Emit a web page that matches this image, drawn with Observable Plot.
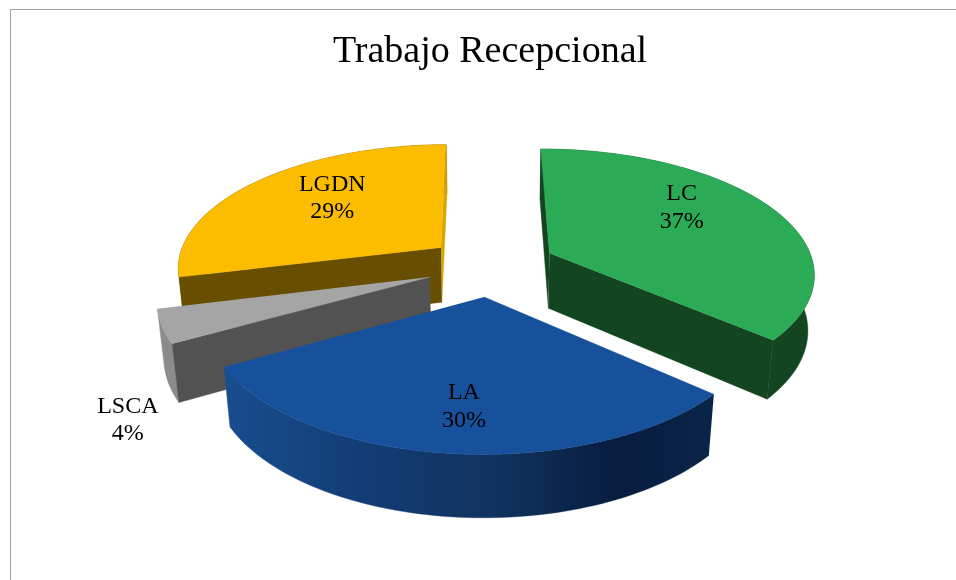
<!DOCTYPE html>
<html>
<head>
<meta charset="utf-8">
<script src="https://cdn.jsdelivr.net/npm/d3@7"></script>
<script src="https://cdn.jsdelivr.net/npm/@observablehq/plot@0.6"></script>
<style>
  html, body { margin: 0; padding: 0; background: #fff; }
  #page { position: relative; width: 956px; height: 580px; overflow: hidden; }
  #frame { position: absolute; left: 9.5px; top: 9px; right: -4px; bottom: -4px; border: 1px solid #a6a6a6; }
  h1 { position: relative; margin: 0; height: 80px; text-align: center; font: 400 38px/1 "Liberation Serif", serif;
       padding-top: 30px; box-sizing: border-box; color: #000; transform: translateX(12px); filter: blur(0.35px); }
  svg { display: block; position: relative; filter: blur(0.35px); }
</style>
</head>
<body>
<div id="page">
  <div id="frame"></div>
  <h1>Trabajo Recepcional</h1>
  <div id="chart"></div>
</div>
<script>
// Data, clockwise from the top of the pie
const categories = ["LC", "LA", "LSCA", "LGDN"];
const values = [36.5, 30.49, 4.2, 28.81];

// Styles
const topColors  = ["#2bab56", "#17519c", "#a5a5a5", "#fcbd00"];
const wallColors = ["#134521", "#0d2f5c", "#525252", "#674e00"];
const endColors  = ["#134521", "#0d2f5c", "#525252", "#d8a400"];
const rimColors  = ["#134521", "url(#laRim)", "#8c8c8c", "#674e00"];
const rimStops = [[0, "#184d8f"], [0.3, "#123c72"], [0.55, "#11335f"], [0.8, "#071d3f"], [1, "#0a2449"]];

// Label placement relative to the slice's apex: bearing (degrees), radial fraction
const labelBearing = [52.3, 185, 224.4, 315.5];
const labelRadial  = [0.70, 0.72, 1.33, 0.66];

// 3D view of the pie
const view = {cx: 490.7, cy: 265.2, radius: 264.5, tilt: 123.3, depth: 56.6, persp: 0.15, perspDown: 0.02, explode: 0.246, rotate: -0.3};
const rad = (deg) => (deg * Math.PI) / 180;

function project(u, v, down) {
  const w = 1 + view.persp * v + view.perspDown * down;
  return {
    x: view.cx + (view.radius * u) / w,
    y: view.cy + (-view.tilt * v + view.depth * down) / w
  };
}

const total = d3.sum(values);
const cumulative = d3.cumsum(values);
const slices = categories.map((name, i) => {
  const a0 = ((cumulative[i] - values[i]) / total) * 360 + view.rotate;
  const a1 = (cumulative[i] / total) * 360 + view.rotate;
  const mid = rad((a0 + a1) / 2);
  return {name, i, a0, a1, ou: view.explode * Math.sin(mid), ov: view.explode * Math.cos(mid), share: Math.round((values[i] / total) * 100)};
});

const rimPoint = (s, deg, down) => project(s.ou + Math.sin(rad(deg)), s.ov + Math.cos(rad(deg)), down);
const apexPoint = (s, down) => project(s.ou, s.ov, down);
const arc = (s, down) => {
  const n = Math.ceil((s.a1 - s.a0) / 1.5);
  return d3.range(n + 1).map((k) => rimPoint(s, s.a0 + ((s.a1 - s.a0) * k) / n, down));
};

// A cut wall is drawn only if its outward normal faces the viewer
const facesViewer = (s, nu, nv) => nu * (0 - s.ou) + nv * (-1 / view.persp - s.ov) > 0;

// Painter's order: back slices first, nearest last; within a slice rim, walls, top
const drawOrder = [3, 0, 2, 1];
const faces = [];
for (const idx of drawOrder) {
  const s = slices[idx];
  faces.push({fill: rimColors[idx], points: [...arc(s, 0), ...arc(s, 1).reverse()]});
  if (facesViewer(s, Math.cos(rad(s.a1)), -Math.sin(rad(s.a1))))
    faces.push({fill: endColors[idx], points: [apexPoint(s, 0), rimPoint(s, s.a1, 0), rimPoint(s, s.a1, 1), apexPoint(s, 1)]});
  if (facesViewer(s, -Math.cos(rad(s.a0)), Math.sin(rad(s.a0))))
    faces.push({fill: wallColors[idx], points: [apexPoint(s, 0), rimPoint(s, s.a0, 0), rimPoint(s, s.a0, 1), apexPoint(s, 1)]});
  faces.push({fill: topColors[idx], points: [apexPoint(s, 0), ...arc(s, 0)]});
}

const labels = slices.map((s, i) => {
  const b = rad(labelBearing[i]);
  const p = project(s.ou + labelRadial[i] * Math.sin(b), s.ov + labelRadial[i] * Math.cos(b), 0);
  return {...p, text: `${s.name}\n${s.share}%`};
});

const gradient = () => {
  const defs = d3.create("svg:defs");
  const g = defs.append("linearGradient").attr("id", "laRim").attr("x1", 0).attr("x2", 1).attr("y1", 0).attr("y2", 0);
  for (const [o, c] of rimStops) g.append("stop").attr("offset", o).attr("stop-color", c);
  return defs.node();
};

const chart = Plot.plot({
  width: 956,
  height: 500,
  margin: 0,
  x: {domain: [0, 956], range: [0, 956], axis: null},
  y: {domain: [80, 580], range: [0, 500], axis: null},
  style: {background: "transparent"},
  marks: [
    gradient,
    ...faces.map((f) => Plot.line(f.points, {x: "x", y: "y", fill: f.fill, stroke: f.fill, strokeWidth: 0.4, curve: "linear"})),
    Plot.text(labels, {
      x: "x", y: "y", text: "text", fill: "#000", fontSize: 24, lineHeight: 1.15,
      fontFamily: "Liberation Serif", textAnchor: "middle"
    })
  ]
});
document.getElementById("chart").appendChild(chart);
</script>
</body>
</html>
